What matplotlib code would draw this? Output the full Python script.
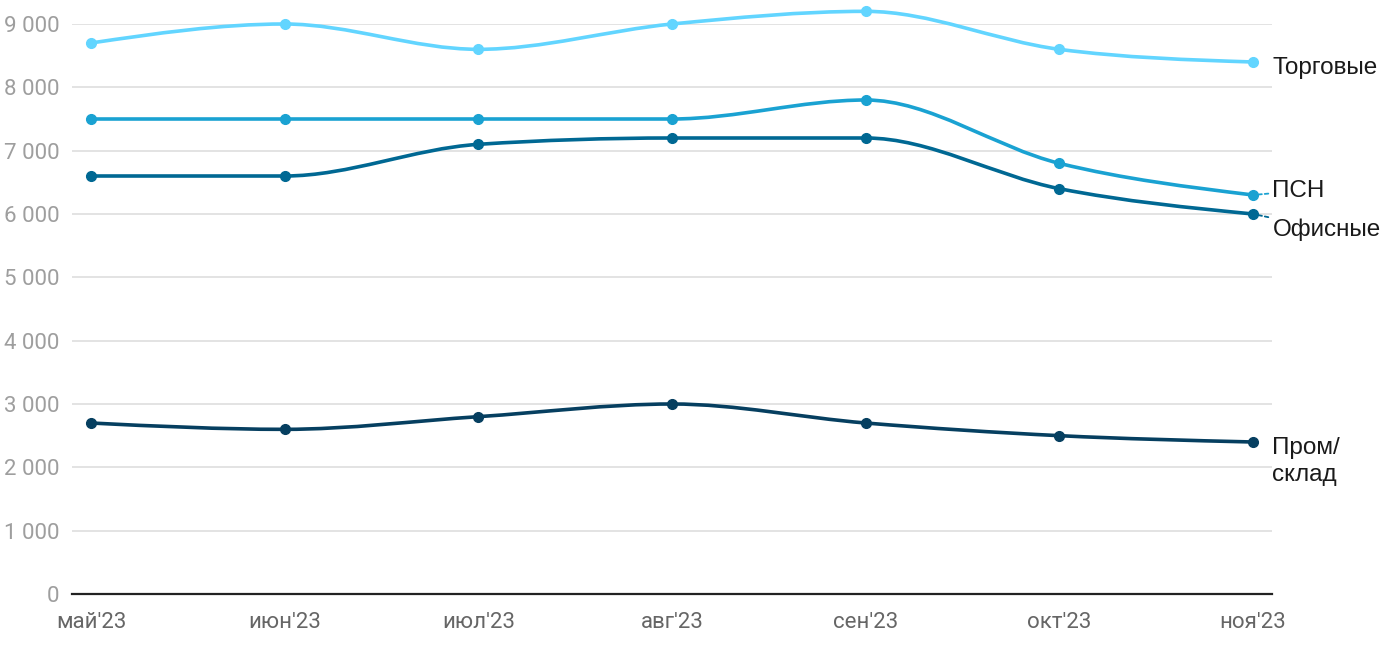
import numpy as np
import matplotlib
matplotlib.use("Agg")
import matplotlib.pyplot as plt
from matplotlib.path import Path
from matplotlib.patches import PathPatch

plt.rcParams['font.family'] = ['Roboto', 'DejaVu Sans']

# data
months = ["май'23", "июн'23", "июл'23", "авг'23", "сен'23", "окт'23", "ноя'23"]
trade = [8700, 9000, 8600, 9000, 9200, 8600, 8400]
psn = [7500, 7500, 7500, 7500, 7800, 6800, 6300]
office = [6600, 6600, 7100, 7200, 7200, 6400, 6000]
warehouse = [2700, 2600, 2800, 3000, 2700, 2500, 2400]
yticks = [0, 1000, 2000, 3000, 4000, 5000, 6000, 7000, 8000, 9000]


def monotone_path(x, y):
    """Bezier path like d3.curveMonotoneX."""
    x = np.asarray(x, float)
    y = np.asarray(y, float)
    n = len(x)
    h = np.diff(x)
    s = np.diff(y) / h
    t = np.zeros(n)
    for i in range(1, n - 1):
        h0, h1 = h[i - 1], h[i]
        s0, s1 = s[i - 1], s[i]
        p = (s0 * h1 + s1 * h0) / (h0 + h1)
        t[i] = (np.sign(s0) + np.sign(s1)) * min(abs(s0), abs(s1), 0.5 * abs(p))
    t[0] = (3 * s[0] - t[1]) / 2
    t[-1] = (3 * s[-1] - t[-2]) / 2
    verts = [(x[0], y[0])]
    codes = [Path.MOVETO]
    for i in range(n - 1):
        dx = h[i] / 3
        verts += [(x[i] + dx, y[i] + dx * t[i]),
                  (x[i + 1] - dx, y[i + 1] - dx * t[i + 1]),
                  (x[i + 1], y[i + 1])]
        codes += [Path.CURVE4] * 3
    return Path(verts, codes)


fig = plt.figure(figsize=(14, 6.5), dpi=100)
ax = fig.add_axes([72 / 1400, 1 - 594 / 650, 1200 / 1400, 570 / 650])

xs = np.arange(len(months))
series = [
    ("Торговые", trade, "#62d5ff"),
    ("ПСН", psn, "#1aa2d2"),
    ("Офисные", office, "#006893"),
    ("Пром/склад", warehouse, "#063f60"),
]

for name, vals, color in series:
    patch = PathPatch(monotone_path(xs, vals), facecolor='none', edgecolor=color,
                      lw=2.6, clip_on=False, zorder=3, capstyle='round')
    ax.add_patch(patch)
    ax.plot(xs, vals, 'o', color=color, ms=7, clip_on=False, zorder=4)

# end labels
lab = dict(va='center', ha='left', fontsize=17.5, color='#1a1a1a',
           family=['Liberation Sans', 'DejaVu Sans'], textcoords='offset points')
ax.annotate("Торговые", (6, trade[-1]), xytext=(14, -4), **lab)
ax.annotate("ПСН", (6, psn[-1]), xytext=(14, 3), **lab,
            arrowprops=dict(arrowstyle='-', color='#1aa2d2', lw=1.3,
                            linestyle=(0, (2, 1.6)), shrinkA=1, shrinkB=4))
ax.annotate("Офисные", (6, office[-1]), xytext=(14, -11), **lab,
            arrowprops=dict(arrowstyle='-', color='#006893', lw=1.3,
                            linestyle=(0, (2, 1.6)), shrinkA=1, shrinkB=4))
ax.annotate("Пром/\nсклад", (6, warehouse[-1]), xytext=(14, -14), linespacing=1.3, **lab)

ax.set_xlim(-0.098, 6.098)
ax.set_ylim(0, 9000)
ax.set_xticks(xs)
ax.set_xticklabels(months)
ax.set_yticks(yticks)
ax.set_yticklabels([f"{v:,}".replace(",", " ") for v in yticks])
ax.tick_params(axis='y', length=0, pad=9, labelsize=16, labelcolor='#9e9e9e')
ax.tick_params(axis='x', length=0, pad=13, labelsize=16, labelcolor='#666666')

ax.grid(axis='y', color='#e3e3e3', lw=1.4)
ax.set_axisbelow(True)
for side in ['top', 'right', 'left']:
    ax.spines[side].set_visible(False)
ax.spines['bottom'].set_color('#222222')
ax.spines['bottom'].set_linewidth(1.6)

fig.savefig("out.png", dpi=100)
